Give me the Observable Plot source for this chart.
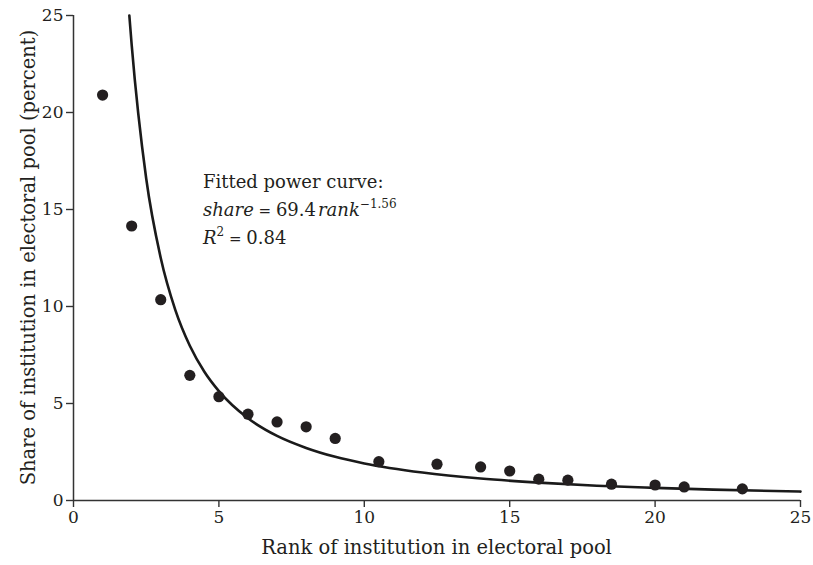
<!DOCTYPE html>
<html><head><meta charset="utf-8">
<script src="https://cdn.jsdelivr.net/npm/d3@7"></script>
<script src="https://cdn.jsdelivr.net/npm/@observablehq/plot@0.6"></script>
<style>body{margin:0;background:#fff}</style>
</head><body><div id="chart"></div>
<script>
// Observed data points
const ranks  = [1, 2, 3, 4, 5, 6, 7, 8, 9, 10.5, 12.5, 14, 15, 16, 17, 18.5, 20, 21, 23];
const shares = [20.9, 14.15, 10.35, 6.45, 5.35, 4.45, 4.05, 3.8, 3.2, 2.0, 1.87, 1.73, 1.52, 1.1, 1.05, 0.84, 0.8, 0.7, 0.6];
// Fitted curve
const curveRanks  = [1.92, 2, 2.5, 3, 3.5, 4, 4.5, 5, 6, 7, 8, 9, 10, 12, 14, 16, 18, 20, 22, 25];
const curveShares = [25, 23.5, 16.6, 12.5, 9.83, 7.98, 6.64, 5.64, 4.24, 3.33, 2.71, 2.25, 1.91, 1.44, 1.13, 0.92, 0.76, 0.65, 0.56, 0.46];
// Ticks and labels
const xTicks = [0, 5, 10, 15, 20, 25];
const yTicks = [0, 5, 10, 15, 20, 25];
const xLabel = "Rank of institution in electoral pool";
const yLabel = "Share of institution in electoral pool (percent)";
const annoTitle = "Fitted power curve:";
const annoCoef = "69.4";
const annoExp = "\u22121.56";
const annoR2 = "0.84";
const annoRank = 4.47;
const annoShare = 16.1;

const points = ranks.map((r, i) => ({rank: r, share: shares[i]}));
const curve = curveRanks.map((r, i) => ({rank: r, share: curveShares[i]}));

const ink = "#231f20";
const font = "'DejaVu Serif', 'Liberation Serif', serif";

const plot = Plot.plot({
  width: 813, height: 565,
  marginLeft: 73, marginRight: 13, marginTop: 15, marginBottom: 65,
  style: {fontFamily: font, fontSize: "17px", color: ink, background: "#fff", overflow: "visible"},
  x: {domain: [0, 25]},
  y: {domain: [0, 25]},
  marks: [
    Plot.axisX({ticks: xTicks, tickSize: 7, tickPadding: 3, label: null, stroke: "#333", strokeWidth: 1.4, fontSize: 17}),
    Plot.axisY({ticks: yTicks, tickSize: 7, tickPadding: 3, label: null, stroke: "#333", strokeWidth: 1.4, fontSize: 17}),
    Plot.ruleY([0], {stroke: "#333", strokeWidth: 1.5}),
    Plot.ruleX([0], {stroke: "#333", strokeWidth: 1.5}),
    Plot.line(curve, {x: "rank", y: "share", stroke: "#1a1a1a", strokeWidth: 2.6, curve: "monotone-x"}),
    Plot.dot(points, {x: "rank", y: "share", r: 5.6, fill: ink, stroke: "none"})
  ]
});

document.getElementById("chart").appendChild(plot);

const xs = plot.scale("x"), ys = plot.scale("y");
const svg = d3.select(plot);
const cx = (xs.range[0] + xs.range[1]) / 2;
const cy = (ys.range[0] + ys.range[1]) / 2;

// Axis titles
svg.append("text")
  .attr("x", cx).attr("y", 554)
  .attr("text-anchor", "middle")
  .style("font-family", font).style("font-size", "19.5px").attr("fill", ink)
  .text(xLabel);
svg.append("text")
  .attr("transform", `translate(35,${cy}) rotate(-90)`)
  .attr("text-anchor", "middle")
  .style("font-family", font).style("font-size", "19.5px").attr("fill", ink)
  .text(yLabel);

// Annotation
const ax = xs.apply(annoRank), ay = ys.apply(annoShare);
const g = svg.append("g").attr("text-anchor", "start")
  .style("font-family", font).attr("fill", ink).style("font-size", "18px");
g.append("text").attr("x", ax).attr("y", ay).text(annoTitle);
const t2 = g.append("text").attr("x", ax).attr("y", ay + 28);
t2.append("tspan").style("font-style", "italic").text("share");
t2.append("tspan").style("font-size", "15px").text(" = ");
t2.append("tspan").text(annoCoef);
t2.append("tspan").style("font-style", "italic").attr("dx", 2).text("rank");
t2.append("tspan").style("font-size", "12px").attr("dy", -8).text(annoExp);
const t3 = g.append("text").attr("x", ax).attr("y", ay + 56);
t3.append("tspan").style("font-style", "italic").text("R");
t3.append("tspan").style("font-size", "12px").attr("dy", -8).text("2");
t3.append("tspan").style("font-size", "15px").attr("dy", 8).text(" = ");
t3.append("tspan").text(annoR2);
</script>
</body></html>
